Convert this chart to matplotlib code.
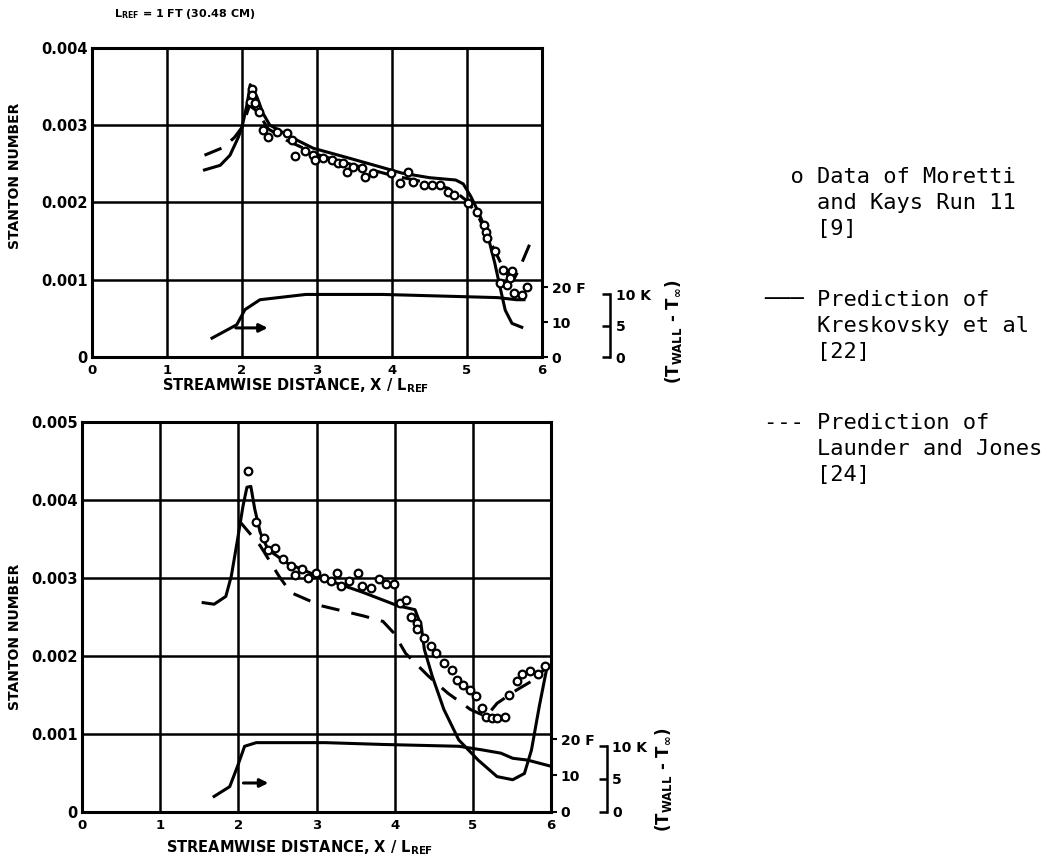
import numpy as np
import matplotlib
matplotlib.use("Agg")
import matplotlib.pyplot as plt

# ---------------- donnees ----------------
# Graphique du haut (Stanton x 1e3)
top_kres_x = [1.50, 1.71, 1.84, 1.95, 2.00, 2.07, 2.11, 2.20, 2.28, 2.37, 2.64, 2.95, 3.40,
              3.84, 4.13, 4.50, 4.85, 4.95, 5.05, 5.15, 5.27, 5.37, 5.44, 5.51, 5.60, 5.73]
top_kres_y = [2.42, 2.48, 2.61, 2.84, 2.97, 3.28, 3.52, 3.36, 3.15, 3.00, 2.85, 2.70, 2.58,
              2.46, 2.38, 2.32, 2.29, 2.24, 2.08, 1.88, 1.60, 1.22, 0.91, 0.61, 0.44, 0.39]

top_lj_x = [1.50, 1.75, 1.90, 2.00, 2.10, 2.20, 2.35, 2.60, 3.00, 3.50, 4.00, 4.50, 4.80,
            5.00, 5.15, 5.30, 5.45, 5.55, 5.62, 5.70, 5.87]
top_lj_y = [2.61, 2.71, 2.84, 2.97, 3.25, 3.18, 2.95, 2.80, 2.62, 2.48, 2.35, 2.25, 2.17,
            2.02, 1.82, 1.52, 1.22, 1.05, 1.00, 1.15, 1.54]

top_data_x = [2.13, 2.13, 2.11, 2.17, 2.22, 2.28, 2.35, 2.46, 2.60, 2.66, 2.71, 2.84, 2.95,
              2.97, 3.08, 3.20, 3.28, 3.35, 3.40, 3.48, 3.60, 3.64, 3.75, 3.98, 4.10, 4.21,
              4.28, 4.42, 4.53, 4.64, 4.75, 4.82, 5.02, 5.13, 5.22, 5.25, 5.27, 5.37, 5.48,
              5.60, 5.57, 5.44, 5.53, 5.62, 5.73, 5.80]
top_data_y = [3.47, 3.39, 3.30, 3.28, 3.17, 2.94, 2.85, 2.91, 2.90, 2.81, 2.60, 2.66, 2.61,
              2.55, 2.57, 2.55, 2.51, 2.51, 2.40, 2.46, 2.44, 2.33, 2.38, 2.38, 2.25, 2.40,
              2.27, 2.23, 2.23, 2.23, 2.14, 2.10, 1.99, 1.88, 1.71, 1.62, 1.54, 1.37, 1.13,
              1.11, 1.02, 0.96, 0.94, 0.83, 0.81, 0.91]

top_temp_x = [1.60, 1.93, 2.04, 2.24, 2.85, 3.88, 5.41, 5.66, 5.76]
top_temp_f = [5.5, 9.3, 13.6, 16.4, 17.9, 17.9, 17.0, 16.4, 16.4]

# Graphique du bas
bot_kres_x = [1.55, 1.69, 1.84, 1.91, 1.99, 2.06, 2.11, 2.16, 2.21, 2.28, 2.38, 2.62, 3.11,
              3.60, 4.04, 4.26, 4.34, 4.38, 4.48, 4.63, 4.82, 5.07, 5.31, 5.51, 5.66, 5.75,
              5.85, 5.95]
bot_kres_y = [2.68, 2.66, 2.76, 3.02, 3.49, 3.92, 4.16, 4.17, 3.88, 3.58, 3.36, 3.19, 2.98,
              2.81, 2.64, 2.59, 2.38, 2.08, 1.74, 1.31, 0.92, 0.66, 0.45, 0.41, 0.49, 0.79,
              1.35, 1.86]

bot_lj_x = [2.01, 2.28, 2.52, 2.67, 3.06, 3.60, 3.85, 3.99, 4.14, 4.43, 4.68, 4.97, 5.17,
            5.31, 5.56, 5.78, 5.95]
bot_lj_y = [3.73, 3.41, 3.02, 2.81, 2.64, 2.51, 2.44, 2.29, 2.03, 1.74, 1.52, 1.31, 1.22,
            1.39, 1.56, 1.69, 1.86]

bot_data_x = [2.13, 2.23, 2.33, 2.38, 2.47, 2.57, 2.67, 2.72, 2.82, 2.89, 2.99, 3.09, 3.18,
              3.26, 3.31, 3.41, 3.53, 3.58, 3.70, 3.80, 3.89, 3.99, 4.07, 4.14, 4.21, 4.29,
              4.29, 4.38, 4.46, 4.53, 4.63, 4.73, 4.80, 4.87, 4.97, 5.04, 5.12, 5.17, 5.24,
              5.31, 5.41, 5.46, 5.56, 5.63, 5.73, 5.83, 5.92]
bot_data_y = [4.37, 3.71, 3.51, 3.36, 3.38, 3.24, 3.15, 3.04, 3.11, 3.00, 3.06, 3.00, 2.96,
              3.06, 2.89, 2.96, 3.06, 2.89, 2.87, 2.98, 2.92, 2.92, 2.68, 2.72, 2.49, 2.42,
              2.34, 2.23, 2.12, 2.03, 1.91, 1.82, 1.69, 1.63, 1.56, 1.48, 1.33, 1.22, 1.20,
              1.20, 1.22, 1.50, 1.67, 1.76, 1.80, 1.76, 1.87]

bot_temp_x = [1.69, 1.89, 1.99, 2.08, 2.23, 3.11, 3.85, 4.82, 5.12, 5.36, 5.51, 5.70, 6.00]
bot_temp_f = [4.2, 6.9, 12.5, 18.0, 19.0, 19.0, 18.5, 18.0, 17.0, 16.1, 14.7, 14.2, 12.5]

x_ticks = [0, 1, 2, 3, 4, 5, 6]
top_yticks = [0, 0.001, 0.002, 0.003, 0.004]
top_ylabels = ["0", "0.001", "0.002", "0.003", "0.004"]
bot_yticks = [0, 0.001, 0.002, 0.003, 0.004, 0.005]
bot_ylabels = ["0", "0.001", "0.002", "0.003", "0.004", "0.005"]

legend_lines = [
    "  o Data of Moretti", "    and Kays Run 11", "    [9]",
    "\u2500\u2500\u2500 Prediction of", "    Kreskovsky et al", "    [22]",
    "--- Prediction of", "    Launder and Jones", "    [24]",
]

W, H = 1056, 867
BOLD = dict(fontweight="bold", family="DejaVu Sans")


def px_rect(left, top, right, bottom):
    return [left / W, (H - bottom) / H, (right - left) / W, (bottom - top) / H]


def panel(rect, ymax, yticks, ylabels, kres, lj, data, temp, fmax, k_offset, arrow):
    ax = fig.add_axes(rect)
    ax.set_xlim(0, 6)
    ax.set_ylim(0, ymax)
    ax.set_xticks(x_ticks)
    ax.set_yticks(yticks)
    ax.set_yticklabels(ylabels)
    ax.grid(True, color="black", linewidth=1.8)
    for s in ax.spines.values():
        s.set_linewidth(2.2)
    ax.tick_params(length=0, pad=4)
    ax.tick_params(axis="y", labelsize=10.5, pad=3)
    ax.tick_params(axis="x", labelsize=9.5, pad=5)
    for lab in ax.get_xticklabels() + ax.get_yticklabels():
        lab.set_fontweight("bold")

    ax.plot(kres[0], np.array(kres[1]) * 1e-3, color="black", lw=2.2, zorder=3)
    ax.plot(lj[0], np.array(lj[1]) * 1e-3, color="black", lw=2.2,
            dashes=(6, 4), zorder=3)
    ax.plot(data[0], np.array(data[1]) * 1e-3, "o", ms=5.5, mfc="white",
            mec="black", mew=1.6, zorder=4, clip_on=False)

    # echelle de temperature (F)
    axt = ax.twinx()
    axt.set_ylim(0, fmax)
    axt.set_yticks([0, 10, 20])
    axt.set_yticklabels(["0", "10", "20 F"])
    axt.tick_params(direction="out", length=4, width=1.5, pad=3, labelsize=10)
    for lab in axt.get_yticklabels():
        lab.set_fontweight("bold")
    for s in axt.spines.values():
        s.set_visible(False)
    axt.plot(temp[0], temp[1], color="black", lw=2.2, zorder=3)
    axt.annotate("", xy=arrow[1], xytext=arrow[0],
                 arrowprops=dict(arrowstyle="-|>", color="black", lw=2.2,
                                 mutation_scale=12))

    # echelle de temperature (K)
    axk = ax.twinx()
    axk.set_ylim(0, fmax / 1.8)
    for name, s in axk.spines.items():
        s.set_visible(name == "right")
    axk.spines["right"].set_position(("outward", k_offset))
    axk.spines["right"].set_bounds(0, 10)
    axk.spines["right"].set_linewidth(1.8)
    axk.set_yticks([0, 5, 10])
    axk.set_yticklabels(["0", "5", "10 K"])
    axk.tick_params(direction="in", length=6, width=1.8, pad=4, labelsize=10)
    for lab in axk.get_yticklabels():
        lab.set_fontweight("bold")
    return ax


fig = plt.figure(figsize=(10.56, 8.67), dpi=100)

panel(px_rect(92, 47.5, 542, 357.5), 0.004, top_yticks, top_ylabels,
      (top_kres_x, top_kres_y), (top_lj_x, top_lj_y), (top_data_x, top_data_y),
      (top_temp_x, top_temp_f), 88.0, 49, ((1.88, 8.4), (2.38, 8.4)))

panel(px_rect(82, 421.7, 551, 811.7), 0.005, bot_yticks, bot_ylabels,
      (bot_kres_x, bot_kres_y), (bot_lj_x, bot_lj_y), (bot_data_x, bot_data_y),
      (bot_temp_x, bot_temp_f), 107.3, 40, ((2.03, 7.9), (2.42, 7.9)))

# textes
fig.text(185 / W, 1 - 14 / H, r"L$_\mathbf{REF}$ = 1 FT (30.48 CM)", ha="center",
         va="center", fontsize=8, **BOLD)
xlab = r"STREAMWISE DISTANCE, X / L$_\mathbf{REF}$"
fig.text(296 / W, 1 - 386 / H, xlab, ha="center", va="center", fontsize=10.5, **BOLD)
fig.text(300 / W, 1 - 848 / H, xlab, ha="center", va="center", fontsize=10.5, **BOLD)
fig.text(15 / W, 1 - 176 / H, "STANTON NUMBER", rotation=90, ha="center",
         va="center", fontsize=10, **BOLD)
fig.text(15 / W, 1 - 637 / H, "STANTON NUMBER", rotation=90, ha="center",
         va="center", fontsize=10, **BOLD)
tlab = r"(T$_\mathbf{WALL}$ - T$_\mathbf{\infty}$)"
fig.text(673 / W, 1 - 332 / H, tlab, rotation=90, ha="center", va="center",
         fontsize=12, **BOLD)
fig.text(663 / W, 1 - 780 / H, tlab, rotation=90, ha="center", va="center",
         fontsize=12, **BOLD)

# legende dactylographiee
leg_y = [177, 203, 229, 300, 326, 352, 423, 449, 475]
for y, txt in zip(leg_y, legend_lines):
    fig.text(764 / W, 1 - y / H, txt, va="center", ha="left",
             family="DejaVu Sans Mono", fontsize=15.8)

fig.savefig("out.png", dpi=100)
